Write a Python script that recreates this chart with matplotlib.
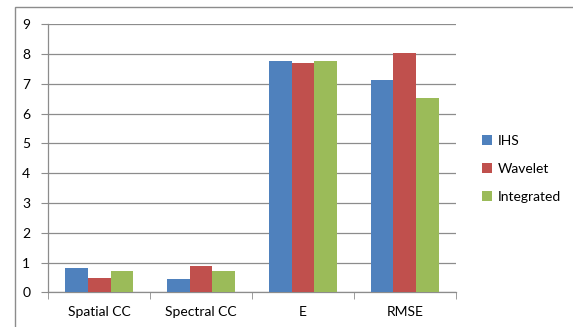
import matplotlib
matplotlib.use("Agg")
import matplotlib.pyplot as plt
import numpy as np
from matplotlib.patches import Rectangle

categories = ["Spatial CC", "Spectral CC", "E", "RMSE"]
series_names = ["IHS", "Wavelet", "Integrated"]
ihs = [0.81, 0.45, 7.78, 7.13]
wavelet = [0.47, 0.88, 7.69, 8.02]
integrated = [0.715, 0.715, 7.78, 6.53]
y_ticks = [0, 1, 2, 3, 4, 5, 6, 7, 8, 9]

colors = ["#4F81BD", "#C0504D", "#9BBB59"]
plt.rcParams["font.family"] = ["Lato", "DejaVu Sans"]

fig = plt.figure(figsize=(5.73, 3.27), dpi=100)
fig.patches.append(Rectangle((15 / 573, -0.1), 1.2, 1 - 7 / 327 + 0.1,
                             transform=fig.transFigure, fill=False,
                             edgecolor="#8c8c8c", linewidth=1.0))

ax = fig.add_axes([48.3 / 573, 1 - 292.3 / 327, (455.7 - 48.3) / 573, (292.3 - 24.3) / 327])

x = np.arange(len(categories))
w = 0.222
for i, (vals, name) in enumerate(zip([ihs, wavelet, integrated], series_names)):
    ax.bar(x + (i - 1) * w, vals, width=w, color=colors[i], label=name, zorder=3)

ax.set_xlim(-0.5, len(categories) - 0.5)
ax.set_ylim(0, 9)
ax.set_yticks(y_ticks)
ax.set_yticklabels([str(v) for v in y_ticks], fontsize=10)
ax.yaxis.grid(True, color="#8c8c8c", linewidth=0.9, zorder=0)
ax.tick_params(axis="y", length=5, color="#8c8c8c", pad=8)

ax.set_xticks(x)
ax.set_xticklabels(categories, fontsize=10)
ax.tick_params(axis="x", length=0, pad=10)
ax.set_xticks(np.arange(-0.5, len(categories)), minor=True)
ax.tick_params(axis="x", which="minor", length=5, color="#8c8c8c")

for s in ["top", "right"]:
    ax.spines[s].set_visible(False)
for s in ["left", "bottom"]:
    ax.spines[s].set_color("#8c8c8c")
    ax.spines[s].set_linewidth(0.9)

ax.legend(loc="center left", bbox_to_anchor=(1.035, 0.46), frameon=False,
          fontsize=10, handlelength=0.7, handleheight=0.7, handletextpad=0.4,
          labelspacing=1.15)

fig.savefig("out.png", dpi=100)
